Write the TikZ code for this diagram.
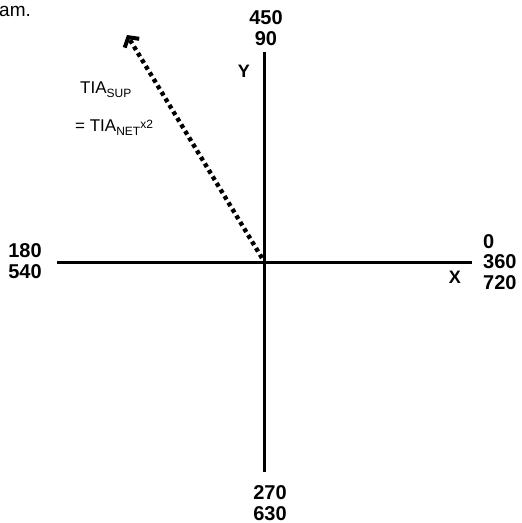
\documentclass[tikz,border=0pt]{standalone}
\usepackage{fontspec}
\setmainfont{Liberation Sans}
\usetikzlibrary{arrows.meta}

\newcommand{\tiasub}[1]{\raisebox{-4pt}{\fontsize{12}{12}\selectfont #1}}
\newcommand{\tiasuper}[1]{\raisebox{3pt}{\fontsize{12}{12}\selectfont #1}}

\begin{document}
\begin{tikzpicture}[x=1pt, y=-1pt,
    axisline/.style={line width=3pt},
    vecline/.style={line width=4.4pt, dash pattern=on 4pt off 3.6pt,
      -{Straight Barb[length=7pt, width=17pt, line width=4pt]}},
    deglabel/.style={font=\fontsize{20}{20.5}\selectfont\bfseries, inner sep=0pt},
    axislabel/.style={font=\fontsize{18}{18}\selectfont\bfseries, inner sep=0pt},
    tialabel/.style={font=\fontsize{17}{18}\selectfont, inner sep=0pt, anchor=west}]
  \useasboundingbox (0,0) rectangle (522,523);

  % axes
  \coordinate (origin) at (264,262);
  \coordinate (ytop) at (264,52);
  \coordinate (ybot) at (264,472);
  \coordinate (xleft) at (57,262);
  \coordinate (xright) at (472,262);
  \draw[axisline] (ytop) -- (ybot);
  \draw[axisline] (xleft) -- (xright);

  % vector
  \coordinate (vtail) at (262,258);
  \coordinate (vtip) at (127,35);
  \draw[vecline] (vtail) -- (vtip);

  \node[deglabel, align=center] (deg90) at (266,28) {450\\90};
  \node[deglabel, align=center] (deg180) at (25,261) {180\\540};
  \node[deglabel, align=left, anchor=west] (deg0) at (483,262) {0\\360\\720};
  \node[deglabel, align=center] (deg270) at (270,503) {270\\630};
  \node[axislabel] (ylab) at (244,71) {Y};
  \node[axislabel] (xlab) at (455,277) {X};

  \node[tialabel] (tiasup) at (80,90) {TIA\tiasub{SUP}};
  \node[tialabel] (tianet) at (75,128) {= TIA\tiasub{NET}\tiasuper{x2}};
  \node[font=\fontsize{19}{20}\selectfont, anchor=west, inner sep=0pt] (caption) at (-1,11) {am.};
\end{tikzpicture}
\end{document}
